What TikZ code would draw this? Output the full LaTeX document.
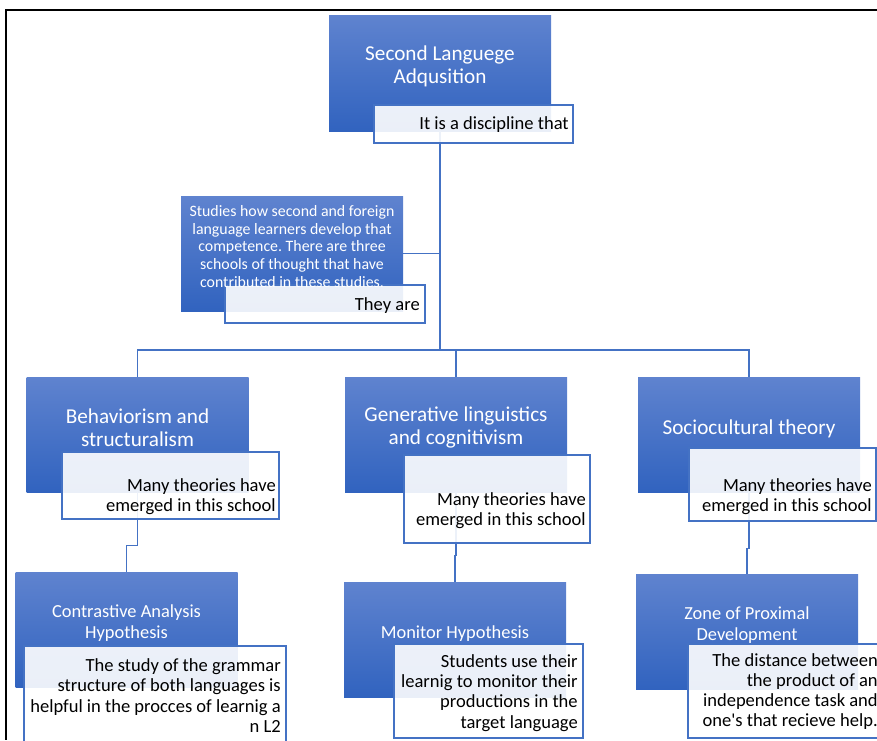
\documentclass[tikz,border=0pt]{standalone}
\usepackage{fontspec}
\setmainfont{Carlito}
\frenchspacing
\definecolor{boxTop}{RGB}{95,131,207}
\definecolor{boxBottom}{RGB}{49,99,191}
\definecolor{lineBlue}{RGB}{68,114,196}
\tikzset{
  bluebox/.style={rectangle, inner sep=0pt, top color=boxTop, bottom color=boxBottom, minimum width=166.5pt, minimum height=86.25pt},
  subbox/.style 2 args={rectangle, draw=lineBlue, line width=0.9pt, fill=white, fill opacity=0.9, inner sep=0pt, minimum width=#1*0.75pt, minimum height=#2*0.75pt},
  conn/.style={draw=lineBlue, line width=1pt},
  bigtitle/.style={text=white, align=center, inner sep=0pt, font=\fontsize{15.9}{17.6}\selectfont},
  smalltitle/.style={text=white, align=center, inner sep=0pt, font=\fontsize{13.8}{15.7}\selectfont},
  notetext/.style={text=white, align=center, inner sep=0pt, font=\fontsize{11.9}{13.2}\selectfont},
  subtext/.style={text=black, align=right, inner sep=0pt, anchor=east, font=\fontsize{13.9}{15.2}\selectfont}
}

\begin{document}
\begin{tikzpicture}[x=0.75pt,y=0.75pt,yscale=-1,xscale=1]
            \useasboundingbox (0,0) rectangle (877,740);
            \clip (0,0) rectangle (877,740);
            % Frame
            \draw [line width=1.5pt] (877,10) -- (6,10) -- (6,740);

            % Blue boxes
            \node [bluebox, minimum height=87pt] (sla) at (440,73) {};
            \node [bluebox] (studies) at (292,253.5) {};
            \node [bluebox] (behav) at (137.5,434.5) {};
            \node [bluebox] (gener) at (456,434.5) {};
            \node [bluebox] (socio) at (749,434.5) {};
            \node [bluebox] (contr) at (126.5,629.5) {};
            \node [bluebox] (monit) at (455,639.5) {};
            \node [bluebox] (zone) at (747,632) {};

            % Connectors
            \coordinate (bus) at (440,350);
            \draw [conn] (sla.south) -- (bus);
            \draw [conn] (studies.east) -- (studies.east -| sla.south);
            \draw [conn] (bus) -| (behav.north);
            \draw [conn] (bus) -| (gener.north);
            \draw [conn] (bus) -| (socio.north);
            \draw [conn] (behav.south) -- ++(0,53) -| (contr.north);
            \draw [conn] (gener.south) -- ++(0,63) -| (monit.north);
            \draw [conn] (socio.south) -- ++(0,56) -| (zone.north);

            % Sub boxes
            \node [subbox={199}{38}] (slaSub) at (473.5,124) {};
            \node [subbox={200}{38}] (studiesSub) at (325,304) {};
            \node [subbox={217}{67}] (behavSub) at (170.5,485.5) {};
            \node [subbox={186}{88}] (generSub) at (497,499) {};
            \node [subbox={187}{73}] (socioSub) at (782.5,484.5) {};
            \node [subbox={262}{98}] (contrSub) at (155,695) {};
            \node [subbox={189}{94}] (monitSub) at (488.5,691) {};
            \node [subbox={198}{94}] (zoneSub) at (787,691) {};

            % Text Node
            \node [bigtitle] (slaText) at (440,66.5) {Second Languege\\Adqusition};
            \node [notetext] (studiesText) at (292,246.5) {Studies how second and foreign\\language learners develop that\\competence. There are three\\schools of thought that have\\contributed in these studies.};
            \node [bigtitle] (behavText) at (137.5,427.5) {Behaviorism and\\structuralism};
            \node [bigtitle] (generText) at (456,427.5) {Generative linguistics\\and cognitivism};
            \node [bigtitle] (socioText) at (749,429) {Sociocultural theory};
            \node [smalltitle] (contrText) at (126.5,623) {Contrastive Analysis\\Hypothesis};
            \node [smalltitle] (monitText) at (455,634) {Monitor Hypothesis};
            \node [smalltitle] (zoneText) at (747,625.5) {Zone of Proximal\\Development};

            % Text Node
            \node [subtext] (slaSubText) at (569,125) {It is a discipline that};
            \node [subtext] (studiesSubText) at (420,306) {They are};
            \node [subtext] (behavSubText) at (276,497) {Many theories have\\emerged in this school};
            \node [subtext] (generSubText) at (586,510.5) {Many theories have\\emerged in this school};
            \node [subtext] (socioSubText) at (872,497) {Many theories have\\emerged in this school};
            \node [subtext] (contrSubText) at (281,695.5) {The study of the grammar\\structure of both languages is\\helpful in the procces of learnig a\\n L2};
            \node [subtext] (monitSubText) at (578,693) {Students use their\\learnig to monitor their\\productions in the\\target language};
            \node [subtext] (zoneSubText) at (878,691.5) {The distance between\\the product of an\\independence task and\\one\textquotesingle s that recieve help.};
\end{tikzpicture}
\end{document}
